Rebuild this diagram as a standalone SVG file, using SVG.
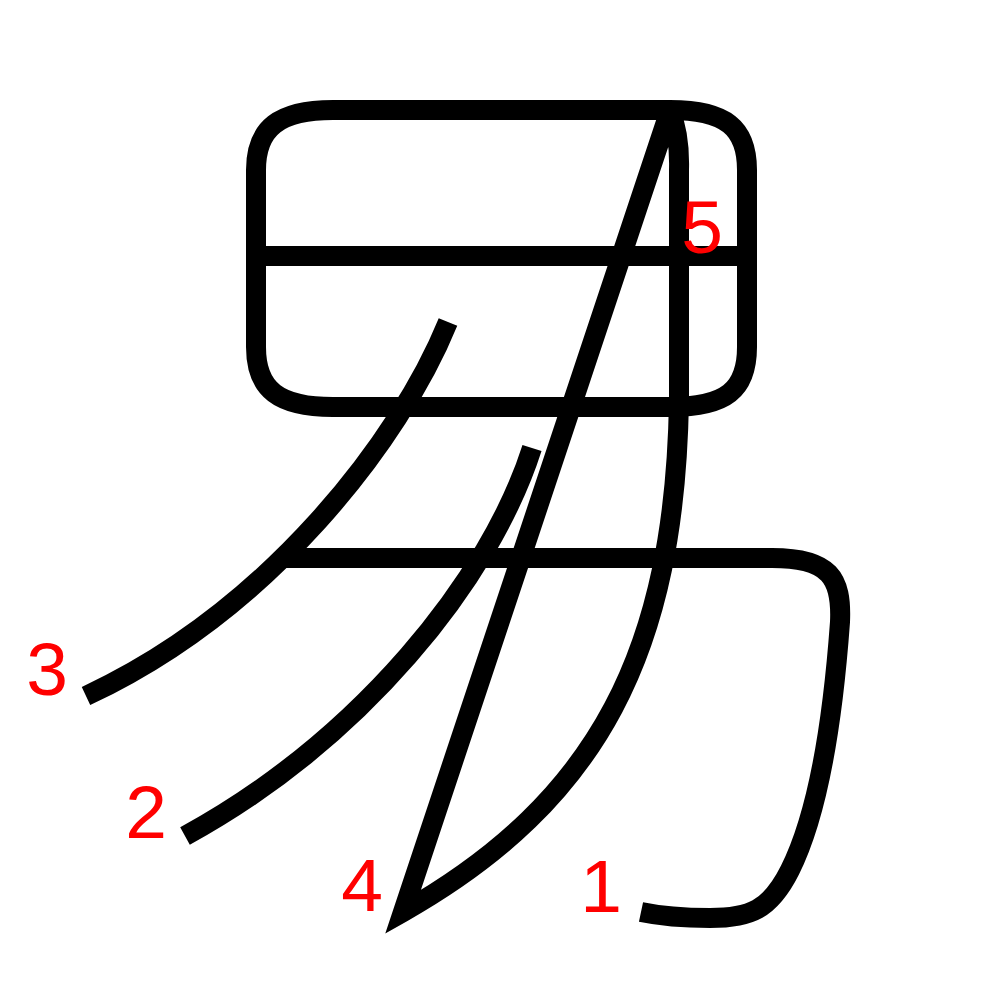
<svg xmlns="http://www.w3.org/2000/svg" width="1000" height="1000" viewBox="0 0 1000 1000">
<style>
.s{fill:none;stroke:#000;stroke-width:20;stroke-linecap:butt;stroke-linejoin:miter}
.n{fill:#f00;font-family:"Liberation Sans",Arial,sans-serif;font-size:75px;text-anchor:middle}
</style>
<rect width="1000" height="1000" fill="#fff"/>
<g id="strokes">
<g id="box"><path class="s" d="M333,110 L670,110 C726,110 747,128 747,170 L747,347 C747,390 726,407 670,407 L333,407 C279,407 256,390 256,347 L256,170 C256,128 279,110 333,110 Z"/></g>
<g id="bar"><path class="s" d="M256,256 L747,256"/></g>
<g id="stroke1"><path class="s" d="M284,558 L772,558 C830,558 842,578 840,622 C830,760 810,830 790,870 C770,910 750,918 710,918 C680,918 660,916 641,912"/></g>
<g id="stroke2"><path class="s" d="M532,448 C490,580 360,740 185,836"/></g>
<g id="stroke3"><path class="s" d="M448,322 C400,440 270,610 86,696"/></g>
<g id="stroke4"><path class="s" d="M679,400 L679,170 Q680,135 670,110 M670,110 L403,912 C600,800 675,650 679,400"/></g>
</g>
<g id="labels">
<text class="n" x="601" y="912">1</text>
<text class="n" x="146" y="838">2</text>
<text class="n" x="47" y="695">3</text>
<text class="n" x="362" y="911">4</text>
<text class="n" x="702" y="253">5</text>
</g>
</svg>
